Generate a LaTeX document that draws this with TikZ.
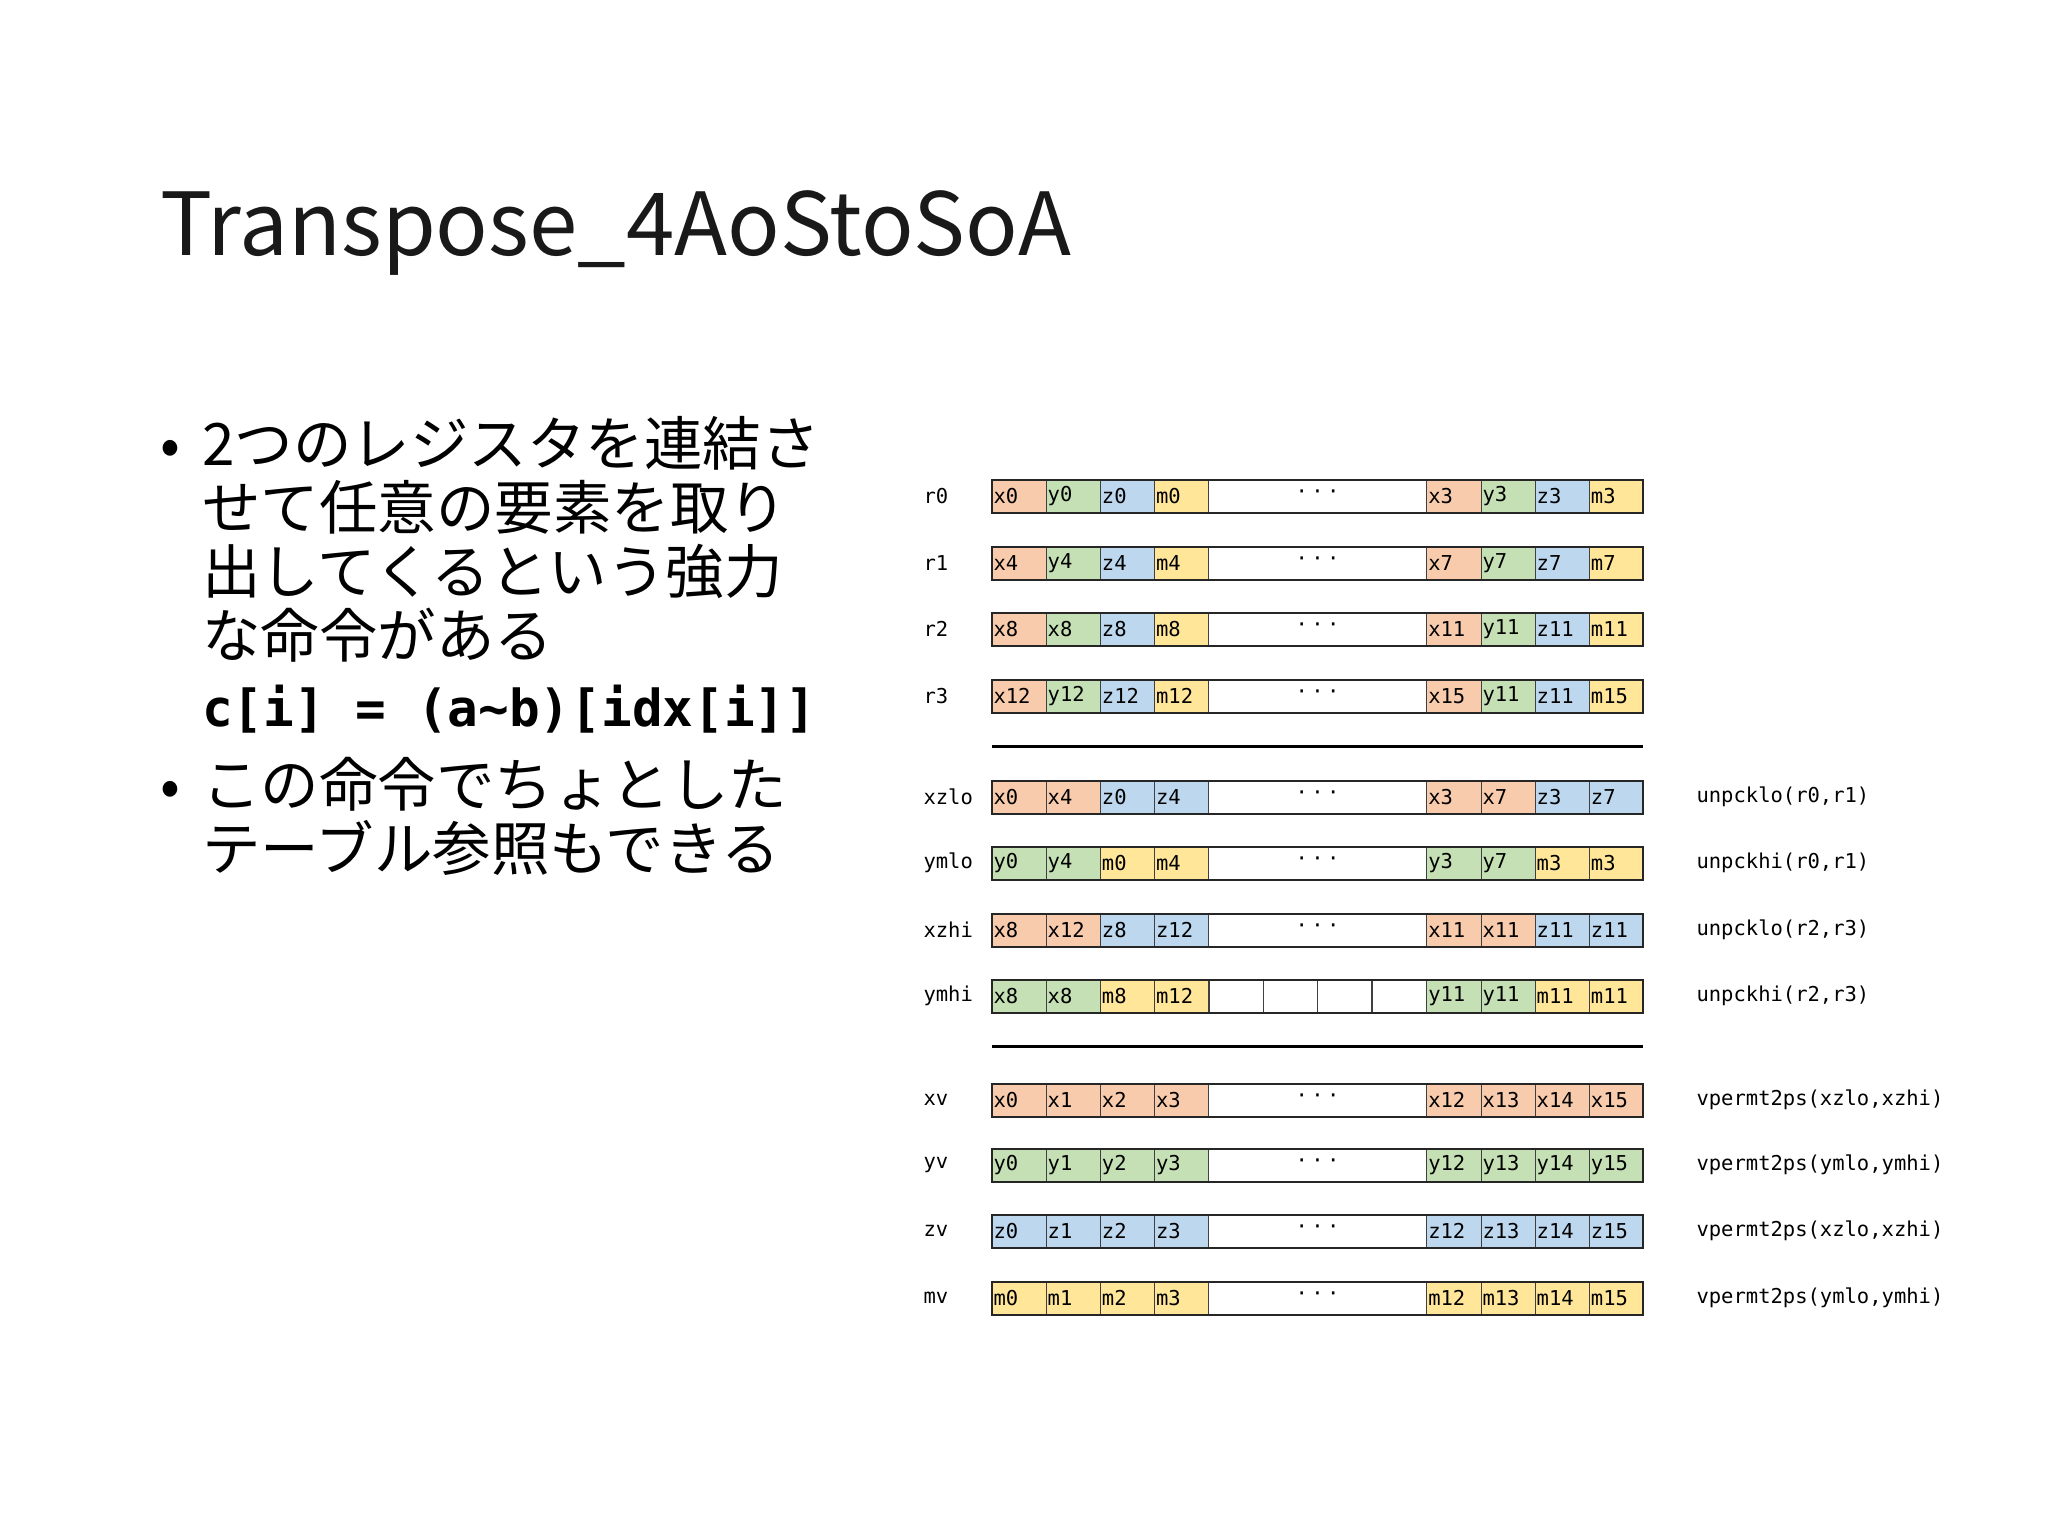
\documentclass[tikz,border=0pt]{standalone}
\usepackage{fontspec}
\setmainfont{Noto Sans CJK JP}
\newfontfamily\monof{DejaVu Sans Mono}
\definecolor{co}{HTML}{F8CBAD}
\definecolor{cg}{HTML}{C5E0B4}
\definecolor{cb}{HTML}{BDD7EE}
\definecolor{cy}{HTML}{FFE699}
\definecolor{cw}{HTML}{FFFFFF}
\tikzset{
  cell/.style={draw=black!75,line width=0.8pt,minimum height=33pt,text width=51.2pt,inner xsep=1.5pt,inner ysep=0pt,align=left,font=\monof\fontsize{20.5}{20.5}\selectfont},
  lbl/.style={anchor=west,font=\monof\fontsize{20.5}{20.5}\selectfont},
  bul/.style={anchor=base west,font=\fontsize{58.5}{58.5}\selectfont,inner sep=0pt}
}
\newcommand\regrow[6]{%
  \node[lbl] (#2-n) at (920,#1) {#2};
  \foreach \c/\t [count=\i from 0] in {#3} {\node[cell,fill=c\c] (#2-a\i) at (1019.1+54.2*\i,#1) {\t};}
  \foreach \c/\t [count=\i from 0] in {#4} {\node[cell,fill=c\c] (#2-b\i) at (1453.9+54.2*\i,#1) {\t};}
  \ifnum#6=1
    \node[cell,text width=214.4pt,align=center] (#2-m) at (1317.5,#1) {\raisebox{3pt}{·\,·\,·}};
  \else
    \foreach \i in {0,1,2,3} {\node[cell] (#2-m\i) at (1236+54.35*\i,#1) {};}
  \fi
  \draw[line width=2pt,black!85] (992,#1-16.5) rectangle (1643,#1+16.5);
  \node[lbl] (#2-op) at (1693,#1) {#5};
}
\begin{document}
\begin{tikzpicture}[x=1pt,y=-1pt]
\useasboundingbox[fill=white] (0,0) rectangle (2048,1536);
\node[anchor=base west,inner sep=0pt,font=\fontsize{87}{87}\selectfont,black!90] (title) at (160,255) {Transpose\_4AoStoSoA};
\node[bul] (b1) at (160,465) {•};
\node[bul] (l1) at (202,465) {2つのレジスタを連結さ};
\node[bul] (l2) at (202,529) {せて任意の要素を取り};
\node[bul] (l3) at (202,593) {出してくるという強力};
\node[bul] (l4) at (202,657) {な命令がある};
\node[bul,font=\monof\bfseries\fontsize{51}{51}\selectfont] (l5) at (202,726) {c[i] = (a\char`~b)[idx[i]]};
\node[bul] (b2) at (160,806) {•};
\node[bul] (l6) at (202,806) {この命令でちょとした};
\node[bul] (l7) at (202,870) {テーブル参照もできる};
\regrow{496}{r0}{o/x0,g/y0,b/z0,y/m0}{o/x3,g/y3,b/z3,y/m3}{}{1}
\regrow{563}{r1}{o/x4,g/y4,b/z4,y/m4}{o/x7,g/y7,b/z7,y/m7}{}{1}
\regrow{629}{r2}{o/x8,g/x8,b/z8,y/m8}{o/x11,g/y11,b/z11,y/m11}{}{1}
\regrow{696}{r3}{o/x12,g/y12,b/z12,y/m12}{o/x15,g/y11,b/z11,y/m15}{}{1}
\coordinate (s1a) at (992,746); \coordinate (s1b) at (1643,746);
\draw[line width=3pt] (s1a) -- (s1b);
\regrow{797}{xzlo}{o/x0,o/x4,b/z0,b/z4}{o/x3,o/x7,b/z3,b/z7}{unpcklo(r0,r1)}{1}
\regrow{863}{ymlo}{g/y0,g/y4,y/m0,y/m4}{g/y3,g/y7,y/m3,y/m3}{unpckhi(r0,r1)}{1}
\regrow{930}{xzhi}{o/x8,o/x12,b/z8,b/z12}{o/x11,o/x11,b/z11,b/z11}{unpcklo(r2,r3)}{1}
\regrow{996}{ymhi}{g/x8,g/x8,y/m8,y/m12}{g/y11,g/y11,y/m11,y/m11}{unpckhi(r2,r3)}{0}
\coordinate (s2a) at (992,1046); \coordinate (s2b) at (1643,1046);
\draw[line width=3pt] (s2a) -- (s2b);
\regrow{1100}{xv}{o/x0,o/x1,o/x2,o/x3}{o/x12,o/x13,o/x14,o/x15}{vpermt2ps(xzlo,xzhi)}{1}
\regrow{1165}{yv}{g/y0,g/y1,g/y2,g/y3}{g/y12,g/y13,g/y14,g/y15}{vpermt2ps(ymlo,ymhi)}{1}
\regrow{1231}{zv}{b/z0,b/z1,b/z2,b/z3}{b/z12,b/z13,b/z14,b/z15}{vpermt2ps(xzlo,xzhi)}{1}
\regrow{1298}{mv}{y/m0,y/m1,y/m2,y/m3}{y/m12,y/m13,y/m14,y/m15}{vpermt2ps(ymlo,ymhi)}{1}
\end{tikzpicture}
\end{document}
